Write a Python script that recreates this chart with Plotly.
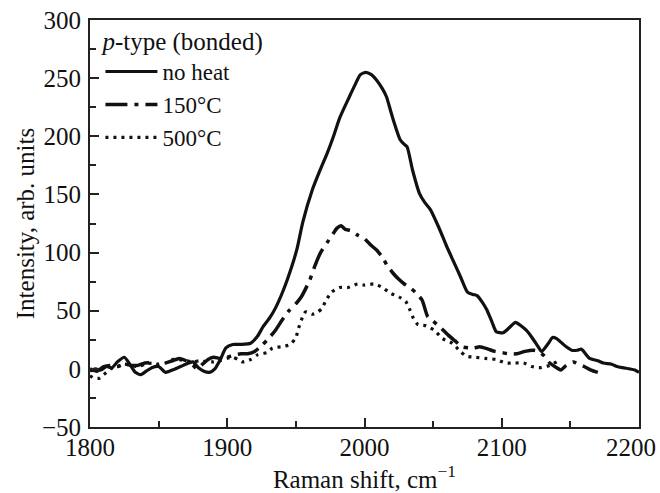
import plotly.graph_objects as go

# ---- data ----
x_noheat = [1800,1804,1808,1812,1816,1820,1825,1829,1833,1837,1841,1845,1850,1855,1860,1864,1868,1872,1875,1879,
            1883,1887,1891,1895,1899,1904,1910,1917,1922,1926,1931,1935,1941,1947,1951,1955,1962,1968,1973,1978,
            1982,1989,1993,1997,2001,2005,2009,2013,2016,2019,2021,2026,2029,2031,2035,2040,2044,2048,2054,2060,
            2065,2070,2075,2079,2082,2086,2089,2093,2096,2101,2106,2110,2114,2118,2122,2126,2129,2134,2137,2140,
            2144,2147,2151,2155,2158,2161,2164,2170,2174,2180,2184,2188,2193,2197,2200]
y_noheat = [-2,0,-1,2,1,6,10,4,-3,-5,-2,1,2,-3,-1,1,3,5,6,1,
            -2,-3,0,8,18,21,21,22,28,36,44,52,68,88,104,126,154,172,186,202,
            216,234,244,253,255,253,248,241,234,222,214,197,193,191,171,151,143,137,122,105,
            92,79,66,64,63,57,51,40,32,31,36,40,37,33,27,20,15,22,27,26,
            22,19,16,16,17,13,9,7,5,4,2,1,0,-1,-3]

x_150 = [1800,1805,1810,1815,1820,1825,1830,1835,1840,1845,1850,1855,1860,1865,1870,1875,1878,1882,1886,1890,
         1895,1900,1905,1910,1915,1920,1925,1930,1935,1940,1945,1950,1954,1960,1964,1968,1973,1977,1980,1983,
         1986,1990,1995,2000,2005,2009,2013,2017,2021,2025,2029,2033,2037,2042,2046,2050,2055,2061,2066,2071,
         2076,2080,2084,2090,2095,2100,2105,2111,2117,2123,2127,2131,2135,2140,2143,2147,2152,2156,2160,2165,2170]
y_150 = [0,-2,2,3,2,4,3,3,5,5,3,5,7,9,7,3,0,4,8,10,
         9,10,12,13,13,15,20,26,33,42,50,56,62,76,89,100,109,116,121,123,
         120,119,115,112,106,102,96,88,82,77,73,70,66,59,45,41,36,29,24,19,
         18,18,19,17,15,14,13,13,15,16,15,11,5,1,-1,3,6,4,2,-1,-3]

x_500 = [1800,1803,1807,1810,1815,1820,1825,1830,1835,1840,1845,1850,1855,1860,1865,1870,1875,1880,1885,1890,
         1895,1900,1904,1908,1911,1917,1922,1929,1933,1940,1946,1950,1952,1954,1957,1962,1966,1969,1972,1976,
         1982,1988,1995,2000,2007,2013,2019,2025,2030,2033,2035,2039,2045,2051,2057,2064,2069,2074,2080,2088,
         2096,2103,2109,2116,2122,2128,2135,2140]
y_500 = [-6,-8,-8,-5,0,2,4,3,2,4,5,4,5,8,8,7,6,7,6,6,
         7,9,10,8,6,8,12,14,18,19,21,27,35,42,49,47,49,52,59,66,
         70,70,73,72,73,70,65,62,58,51,45,38,37,33,26,22,16,11,10,9,
         8,5,5,5,2,1,3,6]

x_tickvals = [1800, 1900, 2000, 2100, 2200]
x_ticktext = ["1800", "1900", "2000", "2100", ""]
last_x_label = "2200"   # drawn as an annotation, nudged left to fit the page like the reference

names = ["no heat", "150°C", "500°C"]
legend_title = "<i>p</i>-type (bonded)"
x_title = "Raman shift, cm<sup>−1</sup>"
y_title = "Intensity, arb. units"

FONT = "Liberation Serif"

fig = go.Figure()
fig.add_trace(go.Scatter(x=x_noheat, y=y_noheat, mode="lines", name=names[0],
                         line=dict(color="#111111", width=3.2, shape="spline", smoothing=0.6)))
fig.add_trace(go.Scatter(x=x_150, y=y_150, mode="lines", name=names[1],
                         line=dict(color="#111111", width=3.5, dash="22px,7px,4px,7px",
                                   shape="spline", smoothing=0.6)))
fig.add_trace(go.Scatter(x=x_500, y=y_500, mode="lines", name=names[2],
                         line=dict(color="#111111", width=3.2, dash="3px,5px",
                                   shape="spline", smoothing=0.6)))

axis_common = dict(showline=True, linecolor="#222222", linewidth=2, mirror=True,
                   ticks="inside", ticklen=9, tickwidth=1.5, tickcolor="#222222",
                   showgrid=False, zeroline=False, ticklabeloverflow="allow", automargin=False,
                   tickfont=dict(family=FONT, size=25, color="#111111"))

fig.update_xaxes(range=[1800, 2200], tickmode="array", tickvals=x_tickvals, ticktext=x_ticktext,
                 ticklabelstandoff=-3,
                 minor=dict(dtick=50, tick0=1800, ticks="inside", ticklen=6, tickwidth=1.5, tickcolor="#222222"),
                 title=dict(text=x_title, font=dict(family=FONT, size=25, color="#111111"), standoff=4),
                 **axis_common)
fig.update_yaxes(range=[-50, 300], dtick=50, tick0=0, ticklabelstandoff=2,
                 minor=dict(dtick=25, ticks="inside", ticklen=6, tickwidth=1.5, tickcolor="#222222"),
                 title=dict(text=y_title, font=dict(family=FONT, size=25, color="#111111"), standoff=0),
                 **axis_common)

fig.add_annotation(x=x_tickvals[-1], xref="x", y=0, yref="paper", text=last_x_label,
                   showarrow=False, xanchor="center", yanchor="middle", xshift=-8, yshift=-20,
                   font=dict(family=FONT, size=25, color="#111111"))

fig.update_layout(
    width=660, height=493,
    margin=dict(l=90, r=21, t=20, b=66, autoexpand=False),
    plot_bgcolor="white", paper_bgcolor="white",
    font=dict(family=FONT, size=25, color="#111111"),
    legend=dict(x=0.019, y=1.006, xanchor="left", yanchor="top",
                bgcolor="rgba(0,0,0,0)", borderwidth=0,
                title=dict(text=legend_title, font=dict(family=FONT, size=25)),
                font=dict(family=FONT, size=23), itemwidth=52, tracegroupgap=0),
)

fig.write_html("out.html", config={"displayModeBar": False},
               post_script="document.body.style.margin='0px';document.body.style.overflow='hidden';")
